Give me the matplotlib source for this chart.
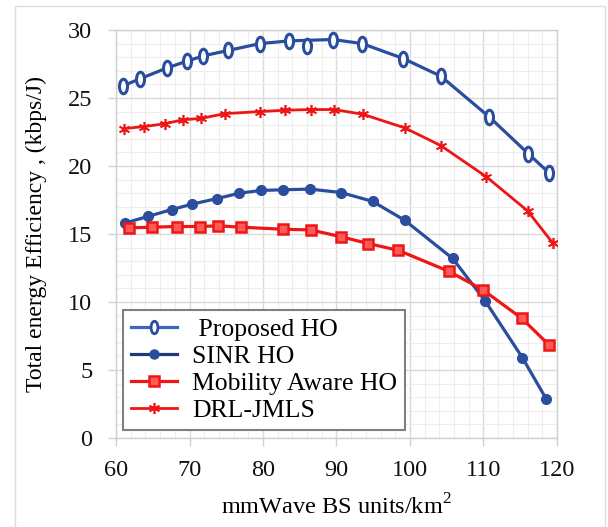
import numpy as np
import matplotlib
matplotlib.use('Agg')
import matplotlib.pyplot as plt
from matplotlib.path import Path
from matplotlib.transforms import Affine2D
from matplotlib.lines import Line2D

plt.rcParams['font.family'] = ['Liberation Serif', 'DejaVu Serif']
plt.rcParams['mathtext.fontset'] = 'custom'
plt.rcParams['mathtext.rm'] = 'Liberation Serif'

# BS density (units/km^2) and energy efficiency (kbps/J) per scheme
proposed_x = [61.0, 63.2, 66.9, 69.6, 71.9, 75.3, 79.6, 83.6, 89.5, 93.5, 99.1, 104.2, 110.8, 116.1, 118.9]
proposed_y = [25.9, 26.4, 27.2, 27.7, 28.1, 28.5, 29.0, 29.2, 29.3, 29.0, 27.9, 26.6, 23.6, 20.9, 19.5]
proposed_extra_x = [86.0]
proposed_extra_y = [28.8]

sinr_x = [61.2, 64.4, 67.6, 70.4, 73.7, 76.8, 79.7, 82.7, 86.4, 90.6, 94.9, 99.3, 105.8, 110.2, 115.3, 118.5]
sinr_y = [15.8, 16.3, 16.8, 17.2, 17.6, 18.0, 18.2, 18.25, 18.3, 18.05, 17.4, 16.0, 13.2, 10.1, 5.9, 2.9]

mobility_x = [61.7, 64.9, 68.3, 71.4, 73.9, 77.0, 82.7, 86.5, 90.6, 94.3, 98.4, 105.3, 109.9, 115.2, 118.9]
mobility_y = [15.45, 15.5, 15.55, 15.55, 15.6, 15.5, 15.35, 15.3, 14.8, 14.3, 13.8, 12.25, 10.9, 8.8, 6.85]

drl_x = [61.1, 63.8, 66.6, 69.1, 71.6, 74.8, 79.6, 83.0, 86.5, 89.7, 93.6, 99.3, 104.2, 110.4, 116.0, 119.4]
drl_y = [22.75, 22.9, 23.1, 23.4, 23.5, 23.85, 24.0, 24.1, 24.15, 24.15, 23.8, 22.8, 21.5, 19.2, 16.7, 14.35]

BLUE = '#2A4D9E'
RED = '#EE1515'

# tall open ellipse marker
ellipse = Path.unit_circle().transformed(Affine2D().scale(0.55, 1.0))

fig = plt.figure(figsize=(6.08, 5.27), dpi=100)
ax = fig.add_axes([0.1908, 0.1689, 0.7253, 0.7742])

ax.plot(proposed_x, proposed_y, color=BLUE, lw=2.3, marker=ellipse, ms=10.5,
        mfc='white', mec=BLUE, mew=2.2, zorder=4)
ax.plot(proposed_extra_x, proposed_extra_y, ls='none', marker=ellipse, ms=10.5,
        mfc='white', mec=BLUE, mew=2.2, zorder=4)
ax.plot(sinr_x, sinr_y, color=BLUE, lw=2.3, marker='o', ms=7,
        mfc=BLUE, mec=BLUE, zorder=4)
ax.plot(mobility_x, mobility_y, color=RED, lw=2.3, marker='s', ms=7,
        mfc='#FF5A5A', mec=RED, mew=1.8, zorder=4)
ax.plot(drl_x, drl_y, color=RED, lw=2.0, marker=(6, 2, 0), ms=8,
        mec=RED, mew=1.2, zorder=4)

ax.set_xlim(60, 120)
ax.set_ylim(0, 30)
ax.set_xticks(np.arange(60, 121, 10))
ax.set_yticks(np.arange(0, 31, 5))
ax.set_xticks(np.arange(60, 121, 2), minor=True)
ax.set_yticks(np.arange(0, 31, 1), minor=True)
ax.grid(which='major', color='#D9D9D9', lw=1.0)
ax.grid(which='minor', color='#EEEEEE', lw=0.8)
ax.set_axisbelow(True)
for s in ax.spines.values():
    s.set_color('#D0D0D0')
    s.set_linewidth(1.0)
ax.tick_params(which='major', direction='out', length=6, width=1.0,
               color='#D0D0D0', labelsize=17.5, pad=10, labelcolor='#111111')
ax.tick_params(axis='y', pad=11)
ax.tick_params(which='minor', length=0)

ax.set_xlabel(r'mmWave BS units/km$^2$', fontsize=17.5, labelpad=9)
ax.set_ylabel('Total energy Efficiency , (kbps/J)', fontsize=17, labelpad=15)

handles = [
    Line2D([], [], color='#3A66C0', lw=2.3, marker=ellipse, ms=9, mfc='white', mec=BLUE, mew=2.0),
    Line2D([], [], color='#1F3A78', lw=2.3, marker='o', ms=6.5, mfc=BLUE, mec=BLUE),
    Line2D([], [], color=RED, lw=2.3, marker='s', ms=7, mfc='#FF5A5A', mec=RED, mew=1.8),
    Line2D([], [], color=RED, lw=2.0, marker=(6, 2, 0), ms=8, mec=RED, mew=1.2),
]
labels = [' Proposed HO', 'SINR HO', 'Mobility Aware HO', 'DRL-JMLS']
leg = ax.legend(handles, labels, loc='lower left', bbox_to_anchor=(0.016, 0.02),
                borderaxespad=0, fontsize=18.5, frameon=True, fancybox=False,
                handlelength=1.8, labelspacing=0.16, borderpad=0.3,
                handletextpad=0.6)
leg.get_frame().set_edgecolor('#7F7F7F')
leg.get_frame().set_linewidth(1.5)
leg.get_frame().set_alpha(1.0)

# light outer frame
fig.add_artist(plt.Rectangle((15 / 608, -0.1), 590 / 608, 1.1 - 6 / 527,
                             transform=fig.transFigure, fill=False,
                             edgecolor='#DDDDDD', lw=1.0))

fig.savefig('out.png', dpi=100)
